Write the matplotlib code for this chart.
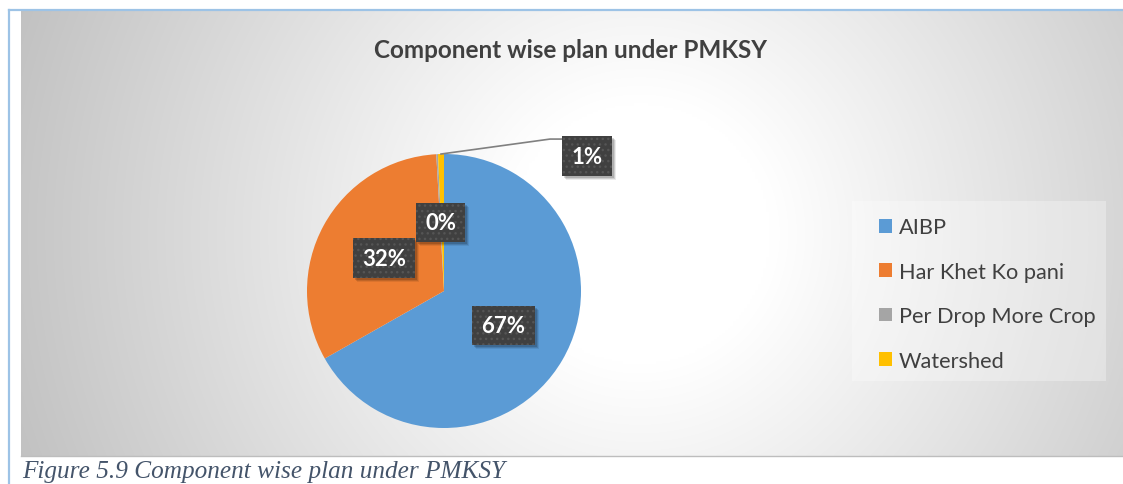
import numpy as np
import matplotlib.pyplot as plt
from matplotlib import transforms
from matplotlib.patches import Rectangle

categories = ['AIBP', 'Har Khet Ko pani', 'Per Drop More Crop', 'Watershed']
shares = [66.8, 32.3, 0.2, 0.7]
colors = ['#5b9bd5', '#ed7d31', '#a5a5a5', '#ffc000']
title = 'Component wise plan under PMKSY'
caption = 'Figure 5.9 Component wise plan under PMKSY'

W, H = 1123, 485
fig = plt.figure(figsize=(W / 100, H / 100), dpi=100)
fig.patch.set_facecolor('white')

# background axes in pixel coords
bg = fig.add_axes([0, 0, 1, 1])
bg.set_xlim(0, W)
bg.set_ylim(H, 0)
bg.axis('off')

# radial grey gradient of the chart area
x0, x1, y0, y1 = 21, W, 12, 457
xx, yy = np.meshgrid(np.linspace(x0, x1, 400), np.linspace(y0, y1, 200))
cx, cy = 640, 235
d = np.hypot(xx - cx, yy - cy)
d = d / d.max()
t = np.clip((d - 0.2) / 0.8, 0, 1)
g = 1 - (1 - 0.76) * t
img = np.dstack([g, g, g])
bg.imshow(img, extent=[x0, x1, y1, y0], aspect='auto', interpolation='bilinear')
bg.plot([x0, x1], [y1, y1], color='#bdbdbd', lw=1)

# light blue frame
bg.plot([8.5, 8.5], [10.5, H], color='#9dc3e6', lw=1.6)
bg.plot([8.5, W], [10.5, 10.5], color='#9dc3e6', lw=1.6)

# legend panel
bg.add_patch(Rectangle((852, 202), 254, 180, facecolor='white', alpha=0.3, edgecolor='none'))

fig.text(571 / W, 1 - 50 / H, title, ha='center', va='center', fontsize=17.5,
         fontweight='bold', color='#404040', family='Lato')
fig.text(22 / W, 1 - 478 / H, caption, ha='left', va='baseline', fontsize=18.2,
         style='italic', color='#44546a', family='Liberation Serif')

# pie
cxp, cyp, r = 444, 292, 137
ax = fig.add_axes([(cxp - r) / W, (H - cyp - r) / H, 2 * r / W, 2 * r / H])
wedges, texts, autotexts = ax.pie(shares, colors=colors, startangle=90, counterclock=False,
                                  autopct='%1.0f%%', pctdistance=0.5,
                                  wedgeprops=dict(linewidth=0))
ax.set_xlim(-1, 1)
ax.set_ylim(-1, 1)
ax.set_aspect('equal')

# callout for the last slice
w = wedges[3]
mid = np.deg2rad((w.theta1 + w.theta2) / 2)
sx, sy = np.cos(mid), np.sin(mid)
ax.plot([sx, 0.774, 0.86], [sy, 1.109, 1.109], color='#808080', lw=1.2, clip_on=False)
autotexts[3].set_position((1.045, 0.985))

for at in autotexts:
    at.set_color('white')
    at.set_fontsize(16)
    at.set_fontweight('bold')
    at.set_family('Lato')
    at.set_bbox(dict(boxstyle='square,pad=0.42', facecolor='#404040',
                     edgecolor='#555555', linewidth=0, hatch='...'))
    at.set_zorder(5)

leg = fig.legend(wedges, categories, loc='center left',
                 bbox_to_anchor=(879 / W, 1 - 295 / H), frameon=False,
                 handlelength=0.6, handleheight=0.6,
                 handletextpad=0.3, labelspacing=1.12, borderpad=0, borderaxespad=0,
                 prop={'family': 'Lato', 'size': 15.7})
for txt in leg.get_texts():
    txt.set_color('#404040')

# soft shadows under the label boxes, sized from the drawn boxes
fig.canvas.draw()
for at in autotexts:
    bb = at.get_bbox_patch().get_window_extent()
    for k, a in [(4, 0.08), (3, 0.12), (2, 0.15)]:
        ax.add_patch(Rectangle((bb.x0 + k, bb.y0 - k), bb.width, bb.height,
                               transform=transforms.IdentityTransform(),
                               facecolor='black', alpha=a, edgecolor='none',
                               zorder=4, clip_on=False))

fig.savefig('out.png', dpi=100)
